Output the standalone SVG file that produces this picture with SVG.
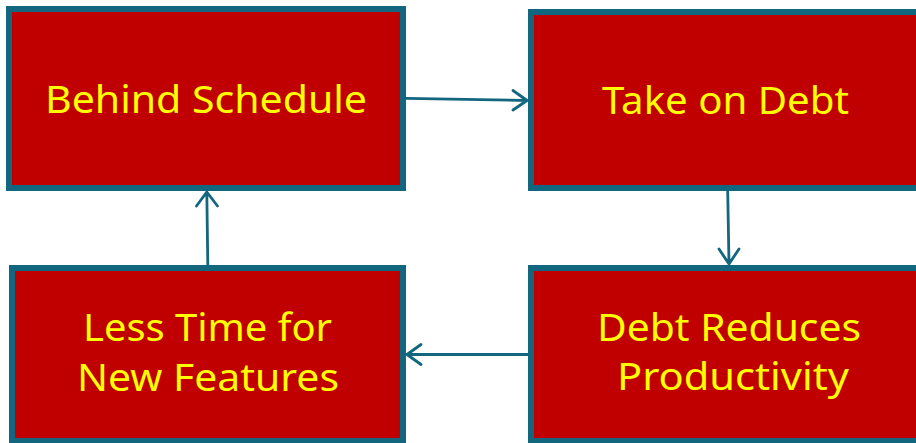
<svg xmlns="http://www.w3.org/2000/svg" width="916" height="443" viewBox="0 0 916 443">
<defs>
<style>
.box{fill:#C00000;stroke:#12677F;stroke-width:6}
.lbl{fill:#FFFF00;font-family:"Noto Sans","Open Sans",sans-serif;font-size:39px}
.con{fill:none;stroke:#12677F;stroke-width:2.8;stroke-linecap:round;stroke-linejoin:round}
</style>
</defs>
<rect width="916" height="443" fill="#FFFFFF"/>
<g id="node-behind-schedule">
<rect class="box" x="9" y="9" width="394" height="179"/>
<text class="lbl" x="45" y="113" textLength="322" lengthAdjust="spacingAndGlyphs">Behind Schedule</text>
</g>
<g id="node-take-on-debt">
<rect class="box" x="531" y="12" width="400" height="176"/>
<text class="lbl" x="602" y="114" textLength="247" lengthAdjust="spacingAndGlyphs">Take on Debt</text>
</g>
<g id="node-debt-reduces">
<rect class="box" x="531" y="268" width="400" height="173"/>
<text class="lbl" x="597" y="341" textLength="264" lengthAdjust="spacingAndGlyphs">Debt Reduces</text>
<text class="lbl" x="617" y="389.5" textLength="232" lengthAdjust="spacingAndGlyphs">Productivity</text>
</g>
<g id="node-less-time">
<rect class="box" x="12" y="268" width="391" height="173"/>
<text class="lbl" x="83" y="341" textLength="249" lengthAdjust="spacingAndGlyphs">Less Time for</text>
<text class="lbl" x="77" y="390.5" textLength="262" lengthAdjust="spacingAndGlyphs">New Features</text>
</g>
<g id="connectors">
<path class="con" d="M406,98.3 L527,100.5 M513,90.5 L527,100.5 L513,110"/>
<path class="con" d="M727.7,191 L729,264 M719,249 L729,264 L739,249"/>
<path class="con" d="M528,354.5 L407,354.5 M421,344.5 L407,354.5 L421,364.5"/>
<path class="con" d="M207.8,265 L206.8,192 M196.5,206 L206.8,192 L217.5,206"/>
</g>
</svg>
